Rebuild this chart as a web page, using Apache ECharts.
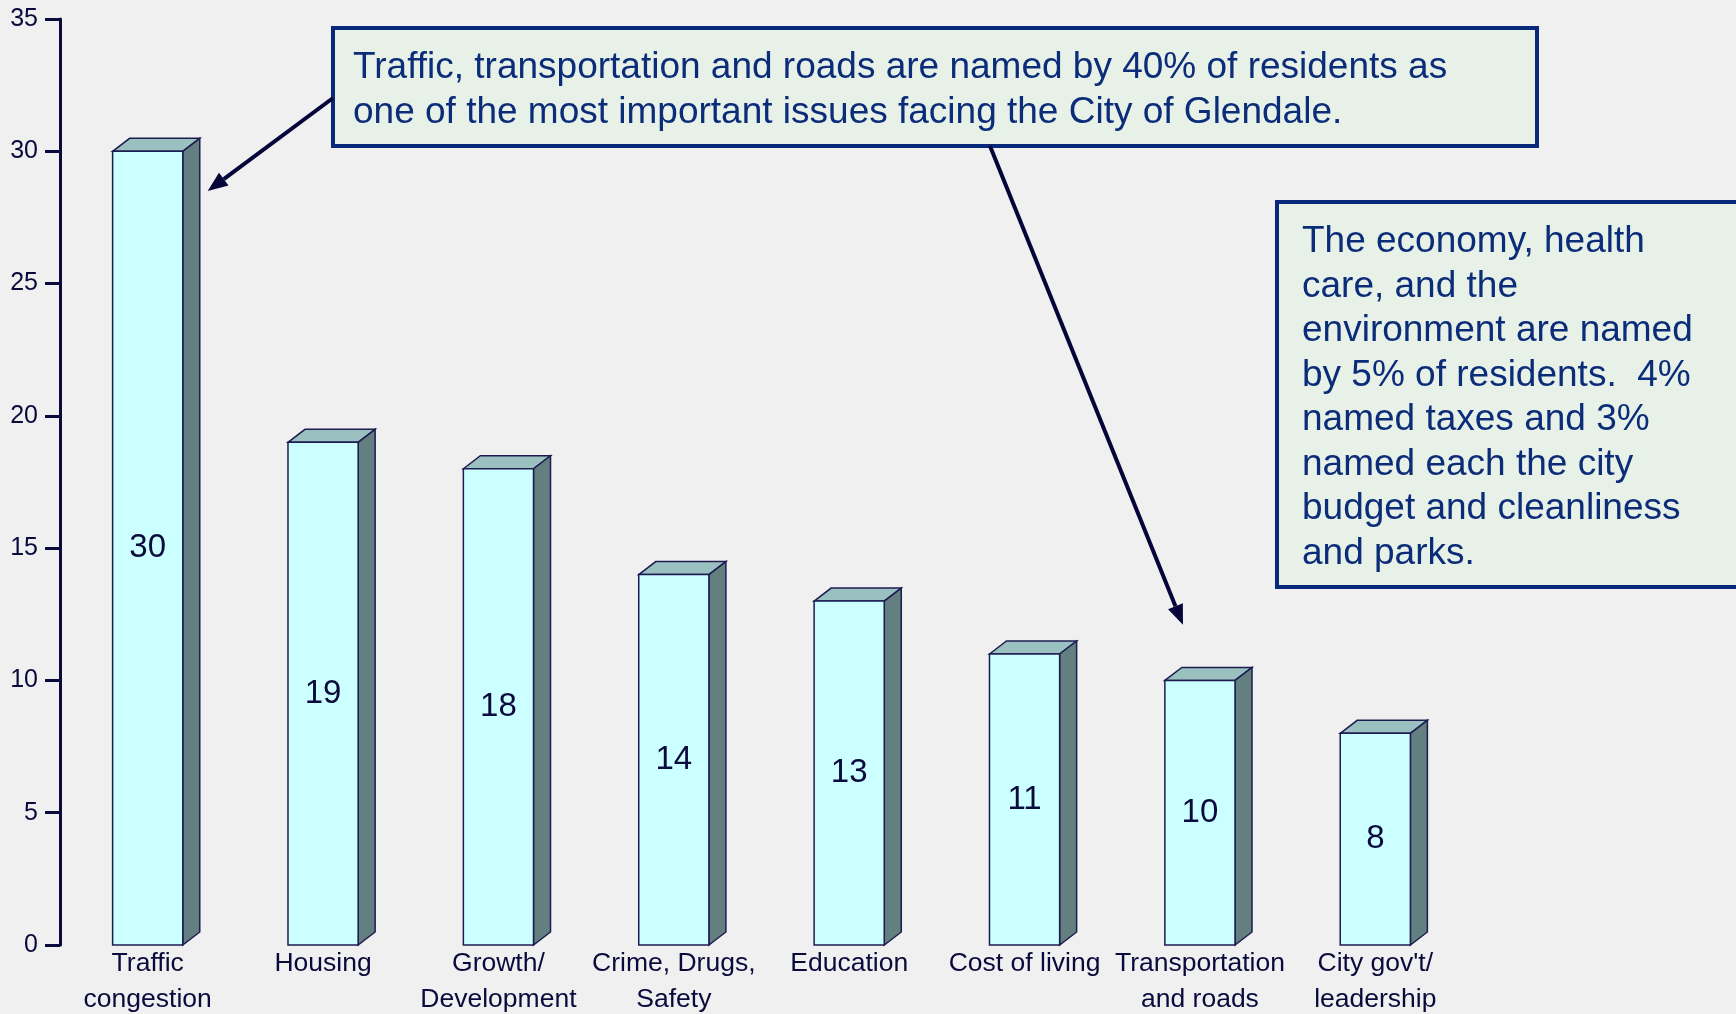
<!DOCTYPE html>
<html>
<head>
<meta charset="utf-8">
<script src="https://cdn.jsdelivr.net/npm/echarts@6/dist/echarts.min.js"></script>
<style>
  html, body { margin: 0; padding: 0; background: #f0f0f0; }
  #main { width: 1736px; height: 1014px; }
</style>
</head>
<body>
<div id="main"></div>
<script>
var categories = ['Traffic\ncongestion', 'Housing', 'Growth/\nDevelopment', 'Crime, Drugs,\nSafety',
  'Education', 'Cost of living', 'Transportation\nand roads', "City gov't/\nleadership"];
var values = [30, 19, 18, 14, 13, 11, 10, 8];
var yTicks = [0, 5, 10, 15, 20, 25, 30, 35];

var note1 = 'Traffic, transportation and roads are named by 40% of residents as\none of the most important issues facing the City of Glendale.';
var note2 = 'The economy, health\ncare, and the\nenvironment are named\nby 5% of residents.  4%\nnamed taxes and 3%\nnamed each the city\nbudget and cleanliness\nand parks.';

var ink = '#0a0a3c';
var font = "'Liberation Sans', Arial, sans-serif";
var depthX = 17, depthY = 13;

var chartDom = document.getElementById('main');
var myChart = echarts.init(chartDom);
var option;

// 3D-looking column: front face, lit top and shaded side
function renderBar(params, api) {
  var top = api.coord([api.value(0), api.value(1)]);
  var base = api.coord([api.value(0), 0]);
  var w = api.size([1, 0])[0] * 0.4;
  var l = top[0] - w / 2, r = top[0] + w / 2;
  var stroke = {stroke: '#1c1c52', lineWidth: 1.5};
  return {
    type: 'group',
    children: [
      {type: 'polygon', shape: {points: [[l, top[1]], [l + depthX, top[1] - depthY], [r + depthX, top[1] - depthY], [r, top[1]]]},
        style: Object.assign({fill: '#9bc0c0'}, stroke)},
      {type: 'polygon', shape: {points: [[r, top[1]], [r + depthX, top[1] - depthY], [r + depthX, base[1] - depthY], [r, base[1]]]},
        style: Object.assign({fill: '#647f7f'}, stroke)},
      {type: 'rect', shape: {x: l, y: top[1], width: w, height: base[1] - top[1]},
        style: Object.assign({fill: '#ccffff'}, stroke)},
      {type: 'text', x: top[0], y: (top[1] + base[1]) / 2,
        style: {text: String(api.value(1)), fill: ink, font: '33px ' + font, align: 'center', verticalAlign: 'middle'}}
    ]
  };
}

option = {
  backgroundColor: '#f0f0f0',
  animation: false,
  grid: {left: 60, right: 273, top: 19, bottom: 69, outerBoundsMode: 'none'},
  xAxis: {
    type: 'category',
    data: categories,
    axisLine: {show: false},
    axisTick: {show: false},
    axisLabel: {interval: 0, color: ink, fontSize: 26.5, lineHeight: 36, fontFamily: font, margin: 1}
  },
  yAxis: {
    type: 'value',
    min: yTicks[0],
    max: yTicks[yTicks.length - 1],
    interval: yTicks[1] - yTicks[0],
    splitLine: {show: false},
    axisLine: {show: true, lineStyle: {color: ink, width: 3}},
    axisTick: {show: true, length: 15, lineStyle: {color: ink, width: 3}},
    axisLabel: {color: ink, fontSize: 25, fontFamily: font, margin: 22}
  },
  series: [{
    type: 'custom',
    renderItem: renderBar,
    data: values.map(function (v, i) { return [i, v]; })
  }]
};
option && myChart.setOption(option);

// annotation boxes and arrows
function arrow(from, to) {
  var ang = Math.atan2(to[1] - from[1], to[0] - from[0]);
  var len = 20, half = 8;
  var bx = to[0] - len * Math.cos(ang), by = to[1] - len * Math.sin(ang);
  return [
    {type: 'line', shape: {x1: from[0], y1: from[1], x2: bx, y2: by}, style: {stroke: '#05053a', lineWidth: 4}, z: 10},
    {type: 'polygon', shape: {points: [to,
      [bx + half * Math.sin(ang), by - half * Math.cos(ang)],
      [bx - half * Math.sin(ang), by + half * Math.cos(ang)]]}, style: {fill: '#05053a'}, z: 10}
  ];
}
var c0 = myChart.convertToPixel({seriesIndex: 0}, [0, 28.5]);
var c6 = myChart.convertToPixel({seriesIndex: 0}, [6, 12.1]);
var boxStyle = {fill: '#e8f1e8', stroke: '#08297a', lineWidth: 4};
var textStyle = {fill: '#0b2c78', font: '37px ' + font};
var graphics = [
  {type: 'rect', shape: {x: 333, y: 28, width: 1204, height: 118}, style: boxStyle, z: 5},
  {type: 'text', x: 353, y: 45, style: Object.assign({text: note1, lineHeight: 45}, textStyle), z: 6},
  {type: 'rect', shape: {x: 1277, y: 202, width: 500, height: 385}, style: boxStyle, z: 5},
  {type: 'text', x: 1302, y: 220, style: Object.assign({text: note2, lineHeight: 44.5}, textStyle), z: 6}
].concat(arrow([333, 98], [c0[0] + 60, c0[1]]), arrow([990, 146], [c6[0] - 17, c6[1]]));
myChart.setOption({graphic: graphics});
</script>
</body>
</html>
